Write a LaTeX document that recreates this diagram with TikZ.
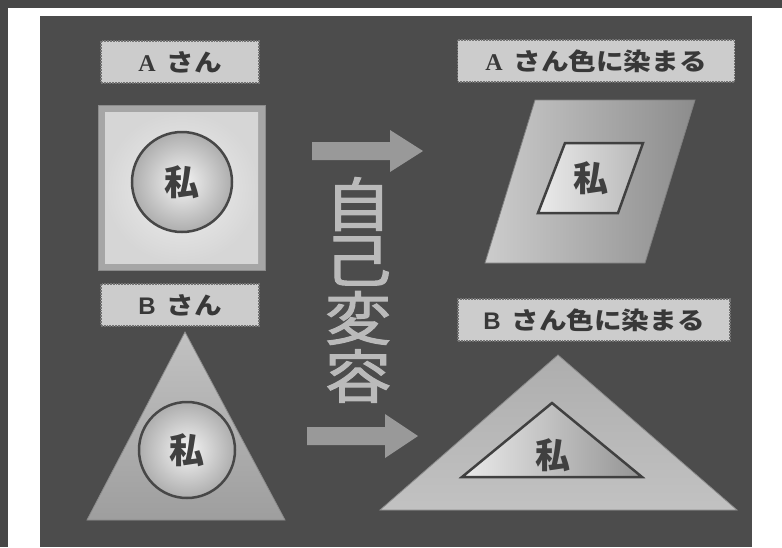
\documentclass[tikz,border=0pt]{standalone}
\usepackage{fontspec}
\setmainfont{Noto Sans CJK JP}
\newfontfamily\jpw[FakeStretch=1.15]{Noto Sans CJK JP}
\newfontfamily\jpv[FakeStretch=1.15,FakeBold=1.8]{Noto Sans CJK JP}
\newfontfamily\serifA{Liberation Serif}
\newfontfamily\sansB{Liberation Sans}
\begin{document}
\begin{tikzpicture}[x=1pt,y=-1pt,
  lbl/.style={fill=black!20, draw=black!55, densely dotted, line width=1.8pt,
    minimum width=#1, minimum height=42pt, inner sep=0pt,
    font=\jpw\fontsize{24}{24}\selectfont\bfseries, text=black!78},
  me/.style={font=\fontsize{35}{35}\selectfont\bfseries, text=black!75, inner sep=0pt},
  mecircle/.style={circle, minimum size=#1, draw=black!72, line width=2.5pt,
    inner color=black!4, outer color=black!32, me},
  vch/.style={font=\jpv\fontsize{58}{58}\selectfont, text=black!27, inner sep=0pt},
  blockarrow/.style={fill=black!40},
  frame/.style={fill=black!72}]
\useasboundingbox (0,0) rectangle (782,547);
\fill[white] (0,0) rectangle (782,547);
\fill[frame] (0,0) rectangle (782,8);
\fill[frame] (0,0) rectangle (8,547);
\fill[black!70] (40,16) rectangle (752,547);

% labels
\node[lbl=158pt] (la) at (180,62) {{\serifA A}\hspace{0.45em}さん};
\node[lbl=158pt] (lb) at (180,305) {{\sansB B}\hspace{0.45em}さん};
\node[lbl=277pt] (lar) at (596,61) {{\serifA A}\hspace{0.45em}さん色に染まる};
\node[lbl=272pt] (lbr) at (594,320) {{\sansB B}\hspace{0.45em}さん色に染まる};

% A square
\draw[draw=black!45, line width=1pt, fill=black!35] (98,105) rectangle (265,270);
\shade[inner color=black!6, outer color=black!16] (105,112) rectangle (258,263);
\node[mecircle=100pt] (wa) at (182,182) {私};

% B triangle
\draw[black!45, line width=0.8pt, top color=black!24, bottom color=black!38]
  (185,332) -- (285,520) -- (87,520) -- cycle;
\node[mecircle=96pt] (wb) at (187,450) {私};

% A parallelogram
\draw[black!50, line width=0.8pt, left color=black!20, right color=black!45]
  (535,100) -- (695,100) -- (645,263) -- (485,263) -- cycle;
\draw[black!75, line width=2.5pt, left color=black!8, right color=black!28]
  (565,143) -- (643,143) -- (618,213) -- (538,213) -- cycle;
\node[me] (wc) at (591,178) {私};

% B right triangle
\draw[black!45, line width=0.8pt, top color=black!32, bottom color=black!24]
  (558,355) -- (737,510) -- (380,510) -- cycle;
\draw[black!75, line width=2.5pt, left color=black!8, right color=black!42]
  (552,403) -- (642,477) -- (462,477) -- cycle;
\node[me] (wd) at (553,455) {私};

% arrows
\fill[blockarrow] (312,142) -- (390,142) -- (390,130) -- (423,151) -- (390,172)
  -- (390,160) -- (312,160) -- cycle;
\fill[blockarrow] (307,427) -- (385,427) -- (385,414) -- (418,436) -- (385,458)
  -- (385,445) -- (307,445) -- cycle;

% vertical text
\node[vch] (v1) at (358,204) {自};
\node[vch] (v2) at (358,261) {己};
\node[vch] (v3) at (358,318) {変};
\node[vch] (v4) at (358,376) {容};
\end{tikzpicture}
\end{document}
